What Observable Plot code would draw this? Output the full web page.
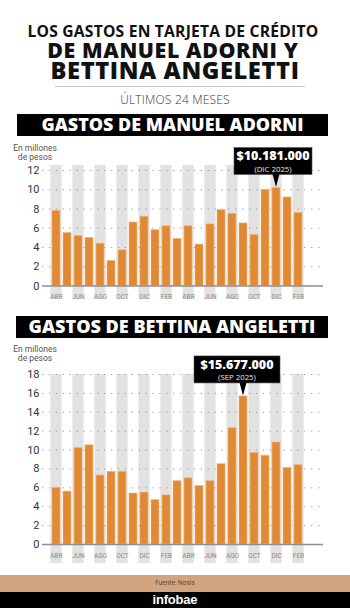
<!DOCTYPE html>
<html><head><meta charset="utf-8">
<script src="https://cdn.jsdelivr.net/npm/d3@7"></script>
<script src="https://cdn.jsdelivr.net/npm/@observablehq/plot@0.6"></script>
<style>
body{margin:0;background:#fff;}
#page{position:relative;width:350px;height:608px;overflow:hidden;background:#fff;}
.abs{position:absolute;left:0;width:350px;text-align:center;white-space:nowrap;line-height:0.8;}
.fit{display:inline-block;line-height:0.8;}
.sub{font-family:"Open Sans",sans-serif;font-weight:300;color:#333;font-size:11px;letter-spacing:0.2px;}
.banner{position:absolute;background:#000;color:#fff;text-align:center;font-family:"Open Sans",sans-serif;font-weight:800;}
.unit{position:absolute;font-family:Roboto,sans-serif;font-size:8.5px;color:#555;text-align:center;line-height:9px;width:60px;}
.chart{position:absolute;left:0;top:0;}
#head{position:absolute;left:0;top:0;}
#foot1{position:absolute;left:0;top:575px;width:350px;height:17px;background:#d3a57f;font-family:Roboto,sans-serif;font-size:6.5px;color:#5a4636;text-align:center;line-height:17px;}
#foot2{position:absolute;left:0;top:592px;width:350px;height:16px;background:#000;color:#fff;font-family:"Liberation Sans",Arial,sans-serif;font-size:13px;text-align:center;line-height:16px;font-weight:bold;letter-spacing:-0.2px;}
</style></head><body>
<div id="page">
  <svg id="head" width="350" height="90">
    <text font-family="'Open Sans', sans-serif" fill="#111" text-anchor="middle">
      <tspan x="175" data-cy="31" data-w="293" font-size="12" font-weight="700" letter-spacing="0.2">LOS GASTOS EN TARJETA DE CRÉDITO</tspan>
      <tspan x="175" data-cy="50.5" data-w="252" font-size="20" font-weight="800" letter-spacing="0.6">DE MANUEL ADORNI Y</tspan>
      <tspan x="175" data-cy="71" data-w="251" font-size="20" font-weight="800" letter-spacing="0.6">BETTINA ANGELETTI</tspan>
    </text>
    <line x1="55" x2="305" y1="86.5" y2="86.5" stroke="#c8c8c8" stroke-width="1"></line>
  </svg>
  <div class="abs" data-cy="98.5"><span class="fit sub" data-w="110">ÚLTIMOS 24 MESES</span></div>
  <div class="banner" style="left:17px;top:114px;width:311px;height:22px;"><div class="abs" data-cy="11" style="width:311px"><span class="fit" data-w="262" style="font-size:17px">GASTOS DE MANUEL ADORNI</span></div></div>
  <div class="unit" style="left:5px;top:144px">En millones<br>de pesos</div>
  <div id="c1" class="chart" style="top:140px"></div>
  <div class="banner" style="left:16px;top:316px;width:312px;height:22px;"><div class="abs" data-cy="11" style="width:312px"><span class="fit" data-w="287" style="font-size:17px">GASTOS DE BETTINA ANGELETTI</span></div></div>
  <div class="unit" style="left:5px;top:345px">En millones<br>de pesos</div>
  <div id="c2" class="chart" style="top:340px"></div>
  <div id="foot1">Fuente: Nosis</div>
  <div id="foot2">infobae</div>
</div>
<script>
const months = ["ABR 2024","MAY 2024","JUN 2024","JUL 2024","AGO 2024","SEP 2024","OCT 2024","NOV 2024","DIC 2024","ENE 2025","FEB 2025","MAR 2025","ABR 2025","MAY 2025","JUN 2025","JUL 2025","AGO 2025","SEP 2025","OCT 2025","NOV 2025","DIC 2025","ENE 2026","FEB 2026"];
const adorni = [7.8,5.5,5.2,5.0,4.4,2.6,3.7,6.6,7.2,5.8,6.2,4.9,6.2,4.3,6.4,7.9,7.5,6.5,5.3,10.0,10.181,9.2,7.6];
const angeletti = [6.0,5.6,10.2,10.5,7.3,7.7,7.7,5.4,5.5,4.7,5.2,6.7,7.0,6.2,6.7,8.5,12.3,15.677,9.7,9.4,10.8,8.1,8.4];
const tickMonths = months.filter((d, i) => i % 2 === 0);
const adorniTicks = [0,2,4,6,8,10,12];
const angelettiTicks = [0,2,4,6,8,10,12,14,16,18];
const adorniPeak = {month: "DIC 2025", value: 10.181, label: "$10.181.000", sub: "(DIC 2025)"};
const angelettiPeak = {month: "SEP 2025", value: 15.677, label: "$15.677.000", sub: "(SEP 2025)"};

function annotation(peak, opt) {
  return (index, scales) => {
    const s = scales.x;
    const bw = typeof s.bandwidth === "function" ? s.bandwidth() : (s.bandwidth || 0);
    const cx = s(peak.month) + bw / 2;
    const cy = scales.y(peak.value);
    const w = opt.width, h = 27, tip = 12.5;
    const bx = cx + opt.dx - w / 2, by = cy - 0.5 - tip - h;
    const g = d3.create("svg:g");
    g.append("rect").attr("x", bx).attr("y", by).attr("width", w).attr("height", h).attr("fill", "#000").attr("stroke", "#555").attr("stroke-width", 0.6);
    g.append("path").attr("d", `M${cx - 3.5},${by + h - 0.4}L${cx},${cy - 0.5}L${cx + 3.5},${by + h - 0.4}Z`).attr("fill", "#000");
    const t = g.append("text").attr("text-anchor", "middle").attr("font-family", "'Open Sans', sans-serif");
    t.append("tspan").attr("x", bx + w / 2).attr("y", by + 12.8)
      .attr("fill", "#fff").attr("font-weight", "800").attr("font-size", 12.5).text(peak.label);
    t.append("tspan").attr("x", bx + w / 2).attr("y", by + 24.4)
      .attr("fill", "#e6e6e6").attr("font-size", 7.8).text(peak.sub);
    return g.node();
  };
}

function chart(values, ticks, ymax, peak, o) {
  const data = months.map((m, i) => ({month: m, value: values[i]}));
  const bands = tickMonths.map(m => ({month: m}));
  return Plot.plot({
    width: 350, height: o.height, marginLeft: 42, marginRight: 27, marginTop: o.marginTop, marginBottom: o.marginBottom,
    x: {type: "band", domain: months, range: [44.2, 309.6], padding: 0.25, label: null},
    y: {domain: [0, ymax], label: null},
    style: {fontFamily: "Roboto, sans-serif", background: "transparent", overflow: "visible"},
    marks: [
      Plot.barY(bands, {x: "month", y1: 0, y2: ymax, fill: "#e2e2e2", insetLeft: -1.6, insetRight: -1.6, insetTop: o.bandTop, insetBottom: o.bandBottom}),
      Plot.ruleY(ticks.filter(t => t > 0), {stroke: "#9c9c9c", strokeDasharray: "1.3,5.6", strokeWidth: 1}),
      Plot.barY(data, {x: "month", y: "value", fill: "#e08a36", stroke: "#f0b47a", strokeWidth: 0.6}),
      Plot.ruleY([0], {stroke: "#8e8e8e", strokeWidth: 1.3}),
      Plot.axisY({ticks, tickSize: 0, tickPadding: 3, fontSize: 11, color: "#333", label: null}),
      Plot.axisX({tickSize: 0, tickPadding: 8.5, fontSize: 6.5, color: "#8a8a8a", label: null,
        tickFormat: d => tickMonths.includes(d) ? d.slice(0, 3) : ""}),
      annotation(peak, o.ann)
    ]
  });
}

document.getElementById("c1").append(chart(adorni, adorniTicks, 12, adorniPeak,
  {height: 165, marginTop: 30, marginBottom: 19.5, bandTop: -5, bandBottom: -13.5, ann: {width: 78, dx: -3}}));
document.getElementById("c2").append(chart(angeletti, angelettiTicks, 18, angelettiPeak,
  {height: 230, marginTop: 34, marginBottom: 26, bandTop: 0, bandBottom: -19, ann: {width: 86, dx: -6}}));

// header lines: fit each to its width and put its cap centre at data-cy
document.querySelectorAll("#head tspan[data-w]").forEach(el => {
  const fs = +el.getAttribute("font-size");
  const w = el.getComputedTextLength();
  const nfs = w > 0 ? fs * (+el.dataset.w) / w : fs;
  el.setAttribute("font-size", nfs);
  el.setAttribute("y", +el.dataset.cy + 0.357 * nfs);
});

document.querySelectorAll(".fit[data-w]").forEach(el => {
  const target = +el.dataset.w;
  const fs = parseFloat(getComputedStyle(el).fontSize);
  const w = el.getBoundingClientRect().width;
  const nfs = w > 0 ? fs * target / w : fs;
  el.style.fontSize = nfs + "px";
  const parent = el.parentElement;
  if (parent.dataset.cy) parent.style.top = (+parent.dataset.cy - 0.43 * nfs) + "px";
});
</script>
</body></html>
